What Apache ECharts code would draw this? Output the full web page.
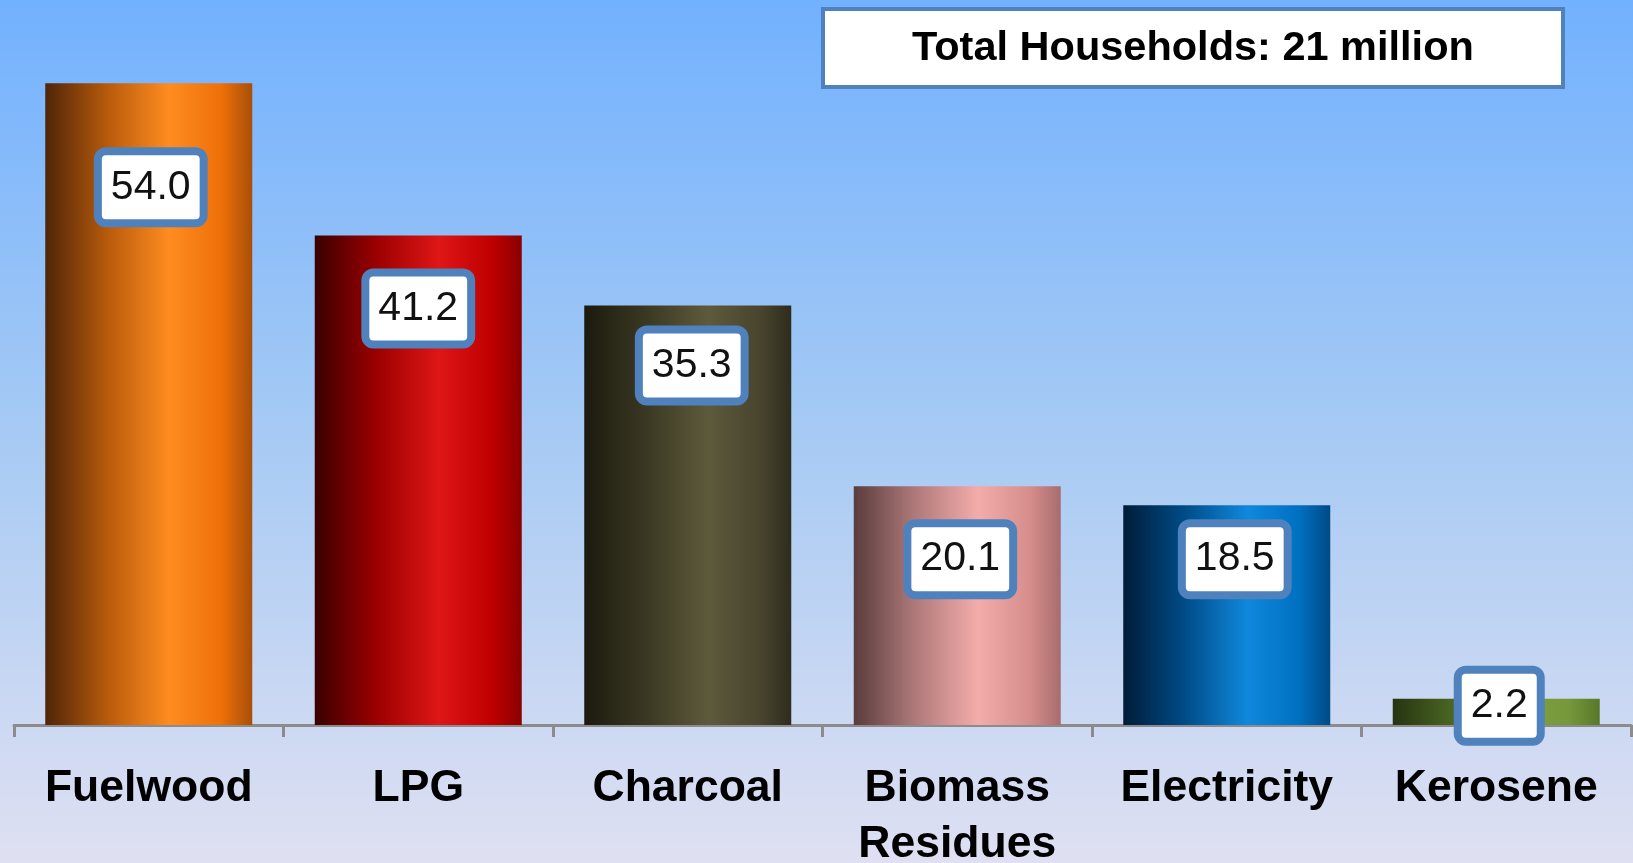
<!DOCTYPE html>
<html>
<head>
<meta charset="utf-8">
<script src="https://cdn.jsdelivr.net/npm/echarts@6/dist/echarts.min.js"></script>
<style>
html,body{margin:0;padding:0;}
#chart{width:1633px;height:863px;}
</style>
</head>
<body>
<div id="chart"></div>
<script>
// ---- data ----
const categories = ['Fuelwood', 'LPG', 'Charcoal', 'Biomass\nResidues', 'Electricity', 'Kerosene'];
const values = [54.0, 41.2, 35.3, 20.1, 18.5, 2.2];
const totalText = 'Total Households: 21 million';

// ---- styles (layout only) ----
const barStops = [
  ['#4e2508', '#b85a0c', '#ff8c20', '#ee7008', '#a94f08'],
  ['#3a0000', '#9c0000', '#de1616', '#c00000', '#8a0000'],
  ['#1c1a0e', '#3a3822', '#5e5a3c', '#48442e', '#2e2c1c'],
  ['#5a3c3c', '#b07a7a', '#f3acaa', '#d68e8c', '#a86c6c'],
  ['#001c38', '#004c88', '#1088dc', '#0070c0', '#004a86'],
  ['#263410', '#4c6824', '#7ea040', '#76983a', '#587828']
];
const labelDx = [2, 0, 4, 3, 8, 3];
const labelDy = [104, 73, 60, 73, 54, 7];

function grad(s) {
  return new echarts.graphic.LinearGradient(0, 0, 1, 0, [
    {offset: 0, color: s[0]}, {offset: 0.3, color: s[1]},
    {offset: 0.6, color: s[2]}, {offset: 0.85, color: s[3]}, {offset: 1, color: s[4]}
  ]);
}

const chart = echarts.init(document.getElementById('chart'));
const seriesData = values.map((v, i) => ({
  value: v,
  itemStyle: {color: grad(barStops[i])},
  label: {offset: [labelDx[i], labelDy[i] - 32]}
}));

chart.setOption({
  backgroundColor: new echarts.graphic.LinearGradient(0, 0, 0, 1, [
    {offset: 0, color: '#72b1fe'},
    {offset: 0.5, color: '#a6caf4'},
    {offset: 1, color: '#dfe0f2'}
  ]),
  animation: false,
  title: {
    text: totalText,
    left: 823, top: 9,
    backgroundColor: '#ffffff',
    borderColor: '#4f81bd',
    borderWidth: 4,
    padding: [18, 89, 16, 89],
    textStyle: {
      fontFamily: '"Liberation Sans", sans-serif',
      fontWeight: 'bold', fontSize: 41.5, color: '#000', lineHeight: 44
    }
  },
  grid: {left: 14, right: 2, top: 12, bottom: 138, containLabel: false, outerBoundsMode: 'none'},
  xAxis: {
    type: 'category',
    data: categories,
    axisLine: {lineStyle: {color: '#8c8c8c', width: 3}},
    axisTick: {show: true, length: 12, lineStyle: {color: '#8c8c8c', width: 3}},
    axisLabel: {
      margin: 36, interval: 0,
      fontFamily: '"Liberation Sans", sans-serif',
      fontWeight: 'bold', fontSize: 44.5, lineHeight: 56, color: '#000'
    }
  },
  yAxis: {type: 'value', min: 0, max: 60, show: false, splitLine: {show: false}},
  series: [{
    type: 'bar',
    data: seriesData,
    barWidth: 207,
    label: {
      show: true,
      position: 'insideTop',
      distance: 0,
      formatter: p => p.value.toFixed(1),
      fontFamily: '"Liberation Sans", sans-serif',
      fontSize: 41, lineHeight: 44, color: '#111',
      backgroundColor: '#ffffff',
      borderColor: '#4f81bd', borderWidth: 8, borderRadius: 4,
      padding: [10, 9, 10, 9]
    }
  }]
});
</script>
</body>
</html>
